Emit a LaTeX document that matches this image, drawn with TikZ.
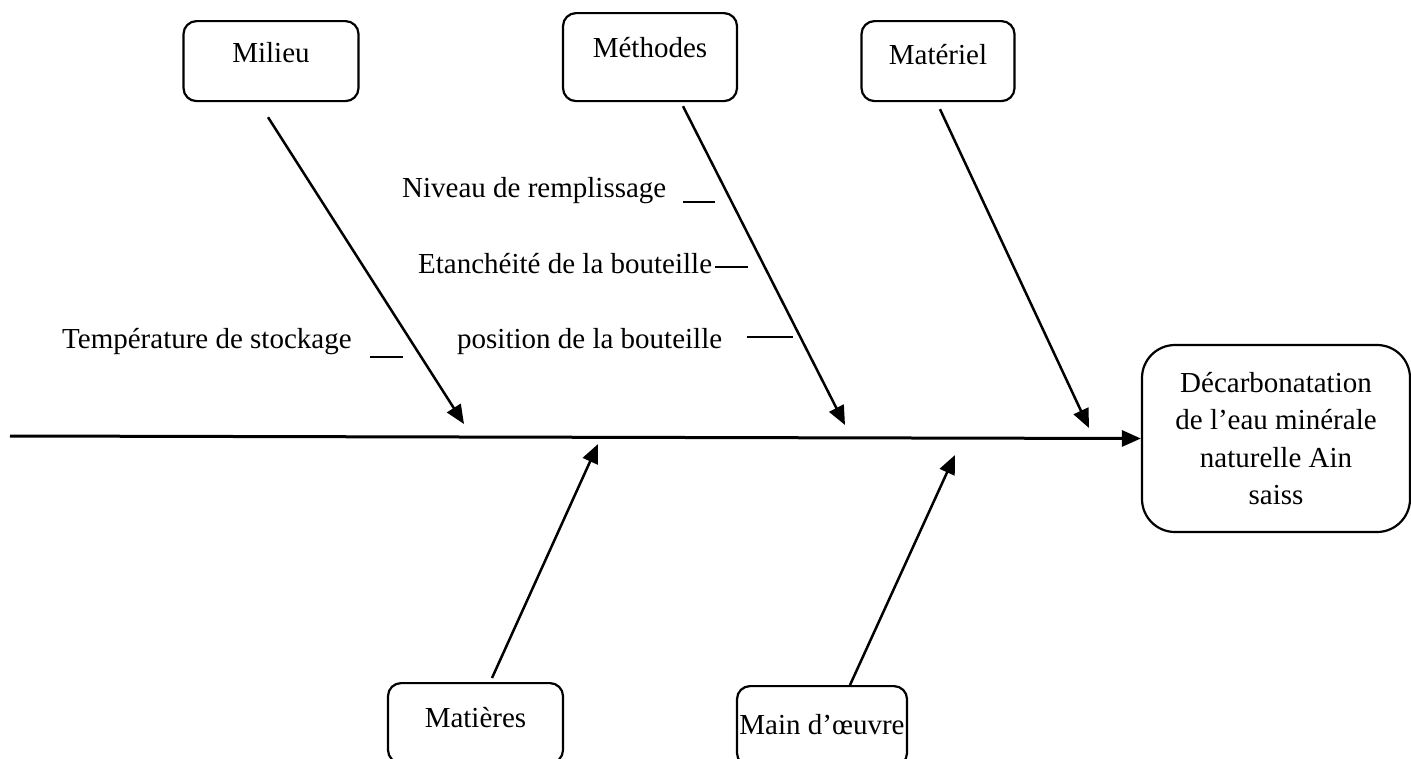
\documentclass[tikz,border=0pt]{standalone}
\usepackage{fontspec}
\setmainfont{Liberation Serif}
\usetikzlibrary{arrows.meta,positioning}

\begin{document}
\begin{tikzpicture}[x=1pt,y=-1pt,
  font=\fontsize{29}{37.5}\selectfont,
  cause/.style={draw,rounded corners=13pt,line width=2.2pt,anchor=north,
    inner sep=0pt,minimum height=80pt,text height=20pt},
  bone/.style={line width=2.5pt,-{Triangle[length=19pt,width=16pt]}},
  sub/.style={anchor=base west,inner sep=0pt},
  tick/.style={line width=2pt}]
\useasboundingbox (0,0) rectangle (1411,758);

% Effect and spine
\node[draw,rounded corners=33pt,line width=2.2pt,minimum width=268pt,minimum height=187pt,align=center] (eff) at (1276,438.5) {Décarbonatation\\de l’eau minérale\\naturelle Ain\\saiss};
\coordinate (tail) at (10,436);
\draw[line width=3pt,-{Triangle[length=19pt,width=16pt]}] (tail) -- (eff.west);

% Categories above
\node[cause,minimum width=175pt,text depth=17pt] (mil) at (271,20) {Milieu};
\node[cause,minimum width=174pt,minimum height=88pt,text depth=19pt] (meth) at (650,12) {Méthodes};
\node[cause,minimum width=153pt,text depth=14pt] (mat) at (938,20) {Matériel};

% Categories below
\node[cause,minimum width=175pt,text depth=12pt] (mp) at (475.5,682) {Matières};
\node[cause,minimum width=170pt,text depth=3pt] (mo) at (822,685) {Main d’œuvre};

% Bones
\coordinate (e1) at (464,424);
\coordinate (e2) at (845,425);
\coordinate (e3) at (1089,428);
\coordinate (e4) at (598,444);
\coordinate (e5) at (955,455);
\draw[bone] ([xshift=-3pt,yshift=-15pt]mil.south) -- (e1);
\draw[bone] ([xshift=33pt,yshift=-4pt]meth.south) -- (e2);
\draw[bone] ([xshift=2pt,yshift=-7pt]mat.south) -- (e3);
\draw[bone] ([xshift=16.5pt,yshift=4pt]mp.north) -- (e4);
\draw[bone] ([xshift=28pt]mo.north) -- (e5);

% Sub-causes
\node[sub] (n1) at (402,197) {Niveau de remplissage};
\node[sub] (n2) at (418,273) {Etanchéité de la bouteille};
\node[sub] (n3) at (62,348) {Température de stockage};
\node[sub] (n4) at (457,348) {position de la bouteille};
\draw[tick] ([xshift=16pt,yshift=-5pt]n1.base east) -- ++(32,0);
\draw[tick] ([xshift=3pt,yshift=6pt]n2.base east) -- ++(33,0);
\draw[tick] ([xshift=18pt,yshift=-9pt]n3.base east) -- ++(33,0);
\draw[tick] ([xshift=25pt,yshift=11pt]n4.base east) -- ++(46,0);
\end{tikzpicture}
\end{document}
